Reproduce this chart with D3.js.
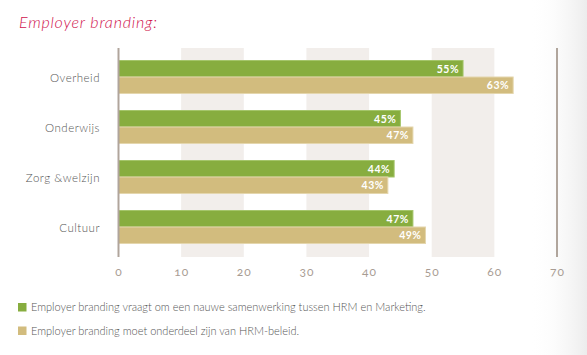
<!DOCTYPE html>
<html><head><meta charset="utf-8">
<script src="https://cdn.jsdelivr.net/npm/d3@7/dist/d3.min.js"></script>
<style>
body{margin:0;background:#fff;}
svg{display:block;font-family:Lato,"Open Sans",sans-serif;}
</style></head>
<body><svg id="c" width="587" height="355"></svg>
<script>
const categories = ["Overheid","Onderwijs","Zorg &welzijn","Cultuur"];
const seriesNames = ["Employer branding vraagt om een nauwe samenwerking tussen HRM en Marketing.","Employer branding moet onderdeel zijn van HRM-beleid."];
const series1 = [55,45,44,47];
const series2 = [63,47,43,49];
const tickValues = [0,10,20,30,40,50,60,70];
const colors = ["#87ad3f","#d2bc7e"];

const svg = d3.select("#c");
const defs = svg.append("defs");
const g = defs.append("linearGradient").attr("id","edge").attr("x1","0").attr("x2","1");
g.append("stop").attr("offset","0").attr("stop-color","#fff").attr("stop-opacity",0);
g.append("stop").attr("offset","1").attr("stop-color","#ececec").attr("stop-opacity",1);
svg.append("rect").attr("x",530).attr("y",0).attr("width",57).attr("height",355).attr("fill","url(#edge)");

const x = d3.scaleLinear().domain([0,70]).range([118.5,557]);
const y = d3.scaleBand().domain(categories).range([52,252]).paddingInner(0.34).paddingOuter(0.17);
const plotTop=48, plotBottom=257;

// alternating bands
[[10,20],[30,40],[50,60]].forEach(([a,b])=>{
  svg.append("rect").attr("x",x(a)).attr("y",plotTop).attr("width",x(b)-x(a)).attr("height",plotBottom-plotTop).attr("fill","#f2eeeb");
});

// title
svg.append("text").attr("x",19).attr("y",28).attr("fill","#d0124d").attr("font-size",16)
  .attr("font-style","italic").attr("font-weight",300).attr("letter-spacing",0.8).text("Employer branding:");

const data = [series1, series2];
const bh = y.bandwidth()/2;
categories.forEach((c,i)=>{
  data.forEach((s,k)=>{
    const yy = y(c)+k*bh;
    svg.append("rect").attr("x",x(0)).attr("y",yy).attr("width",x(s[i])-x(0)).attr("height",bh)
      .attr("fill",colors[k]).attr("stroke",k===0?"#a4c56a":"#e4d6ad").attr("stroke-width",1);
    svg.append("text").attr("x",x(s[i])-4).attr("y",yy+bh/2+3.8).attr("text-anchor","end")
      .attr("fill","#fff").attr("font-size",10.5).attr("font-weight","bold").attr("letter-spacing",0.5)
      .text(s[i]+"%");
  });
  svg.append("text").attr("x",100).attr("y",y(c)+bh+4.5).attr("text-anchor","end")
    .attr("fill","#555").attr("font-size",11.5).attr("font-weight",300).attr("letter-spacing",0.5).text(c);
});

// axis lines
svg.append("line").attr("x1",x(0)).attr("x2",x(0)).attr("y1",plotTop).attr("y2",plotBottom).attr("stroke","#b0a59c").attr("stroke-width",2);
svg.append("line").attr("x1",x(70)).attr("x2",x(70)).attr("y1",plotTop).attr("y2",plotBottom).attr("stroke","#b0a59c").attr("stroke-width",2);

const axis = d3.axisBottom(x).tickValues(tickValues).tickSize(0).tickPadding(0);
const ax = svg.append("g").attr("transform",`translate(0,${plotBottom+10})`).call(axis);
ax.select(".domain").remove();
ax.selectAll("text").attr("fill","#a89c93").attr("font-size",12).attr("letter-spacing",1)
  .style("font-variant-numeric","oldstyle-nums").attr("font-family","Lato,sans-serif");

// legend
seriesNames.forEach((n,k)=>{
  const ly = 303 + k*23.5;
  svg.append("rect").attr("x",18).attr("y",ly).attr("width",8.5).attr("height",8.5).attr("fill",colors[k]);
  svg.append("text").attr("x",31).attr("y",ly+8).attr("fill","#555").attr("font-size",11).attr("font-weight",300).attr("letter-spacing",0).text(n);
});
</script></body></html>
